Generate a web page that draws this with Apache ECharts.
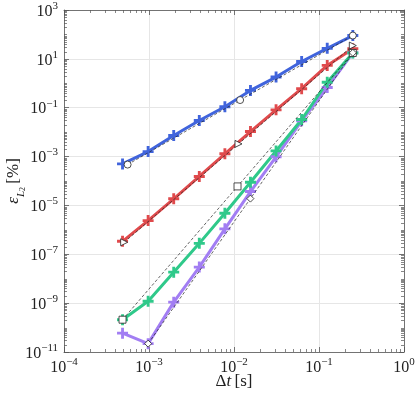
<!DOCTYPE html>
<html>
<head>
<meta charset="utf-8">
<script src="https://cdn.jsdelivr.net/npm/echarts@6/dist/echarts.min.js"></script>
<style>html,body{margin:0;padding:0;background:#fff}#main{width:415px;height:396px}</style>
</head>
<body>
<div id="main"></div>
<script>
// time steps
var dt = [0.25, 0.125, 0.0625, 0.03125, 0.015625, 0.0078125, 0.00390625, 0.001953125, 0.0009765625, 0.00048828125];
// errors in %
var blueErr   = [90, 27, 7.8, 1.8, 0.51, 0.11, 0.030, 7.3e-3, 1.6e-3, 5.0e-4];
var redErr    = [26, 5.4, 0.60, 0.082, 0.0106, 1.3e-3, 1.53e-4, 1.87e-5, 2.4e-6, 3.4e-7];
var greenErr  = [17.4, 1.1, 0.033, 1.7e-3, 8.9e-5, 4.8e-6, 2.8e-7, 1.85e-8, 1.2e-9, 2.1e-10];
var purpleErr = [17.7, 0.67, 0.029, 9.8e-4, 3.7e-5, 1.1e-6, 3.0e-8, 1.1e-9, 2.2e-11, 5.9e-11];
// reference slopes (order 2,3,4,5)
var blueRefDt = [5.6e-4, 0.0118, 0.25],   blueRef = [4.7e-4, 0.206, 90];
var redRefDt = [5.1e-4, 0.0113, 0.25],    redRef = [3.1e-7, 3.3e-3, 35];
var greenRefDt = [4.88e-4, 0.011, 0.25],  greenRef = [2.1e-10, 6.0e-5, 17.4];
var purpleRefDt = [9.77e-4, 0.0156, 0.25], purpleRef = [2.2e-11, 1.9e-5, 17.7];

var serif = 'Liberation Serif';
var plusPath = 'path://M3.7,0h2.6v3.7h3.7v2.6h-3.7v3.7h-2.6v-3.7h-3.7v-2.6h3.7z';

function pairs(xs, ys){
    return xs.map(function(x, i){ return [x, ys[i]]; });
}
function powLabel(v){
    var e = Math.round(Math.log10(v));
    return '{b|10}{e|' + (e < 0 ? '\u2212' + (-e) : e) + '}';
}
var labRich = {
    b: {fontFamily: serif, fontSize: 16, color: '#222', lineHeight: 19, verticalAlign: 'bottom'},
    e: {fontFamily: serif, fontSize: 11, color: '#222', lineHeight: 19, verticalAlign: 'top'}
};

// minor ticks (log decades)
var xMinor = [], yMinor = [];
for (var k = -4; k < 0; k++) for (var m = 2; m <= 9; m++) xMinor.push(m * Math.pow(10, k));
for (var k = -11; k < 3; k++) {
    if (k % 2 === 0) yMinor.push(Math.pow(10, k));
    for (var m = 2; m <= 9; m++) yMinor.push(m * Math.pow(10, k));
}

function mainLine(name, data, color){
    return {
        name: name, type: 'line', data: data,
        showAllSymbol: true, symbol: plusPath, symbolSize: 11,
        lineStyle: {color: color, width: 3},
        itemStyle: {color: color},
        z: 3
    };
}
function refLine(name, data, symbol, rot){
    return {
        name: name, type: 'line', data: data,
        symbol: symbol, symbolSize: 7, symbolRotate: rot || 0,
        lineStyle: {color: '#222', width: 0.7, type: [3, 2]},
        itemStyle: {color: '#fff', borderColor: '#222', borderWidth: 0.8},
        z: 4
    };
}

var chart = echarts.init(document.getElementById('main'));
var axisLineStyle = {lineStyle: {color: '#555', width: 0.8}};
var option = {
    animation: false,
    backgroundColor: '#fff',
    grid: {left: 64, right: 11, top: 10, bottom: 44, outerBoundsMode: 'none', containLabel: false},
    xAxis: [{
        type: 'log', logBase: 10, min: 1e-4, max: 1,
        axisLine: axisLineStyle,
        axisTick: {inside: true, length: 5, lineStyle: {color: '#555', width: 0.8}},
        splitLine: {show: true, lineStyle: {color: '#e6e6e6', width: 1}},
        axisLabel: {formatter: powLabel, rich: labRich, margin: 5},
        name: '{n|\u0394}{i|t} {n|[s]}',
        nameLocation: 'middle', nameGap: 21, nameMoveOverlap: false,
        nameTextStyle: {verticalAlign: 'top', rich: {
            n: {fontFamily: serif, fontSize: 17, color: '#222'},
            i: {fontFamily: serif, fontSize: 17, fontStyle: 'italic', color: '#222'}
        }}
    }, {
        type: 'log', logBase: 10, min: 1e-4, max: 1, position: 'top',
        axisLine: axisLineStyle,
        axisTick: {inside: true, length: 5, lineStyle: {color: '#555', width: 0.8}},
        splitLine: {show: false}, axisLabel: {show: false}
    }],
    yAxis: [{
        type: 'log', logBase: 10, min: 1e-11, max: 1e3, interval: 2,
        axisLine: axisLineStyle,
        axisTick: {inside: true, length: 5, lineStyle: {color: '#555', width: 0.8}},
        splitLine: {show: true, lineStyle: {color: '#e6e6e6', width: 1}},
        axisLabel: {formatter: powLabel, rich: labRich, margin: 6},
        name: '{i|\u03b5}{s|L}{ss|2} {n|[%]}',
        nameLocation: 'middle', nameGap: 37, nameRotate: 90, nameMoveOverlap: false,
        nameTextStyle: {verticalAlign: 'bottom', rich: {
            n: {fontFamily: serif, fontSize: 17, color: '#222'},
            i: {fontFamily: serif, fontSize: 17, fontStyle: 'italic', color: '#222'},
            s: {fontFamily: serif, fontSize: 11, fontStyle: 'italic', color: '#222', verticalAlign: 'bottom', lineHeight: 22},
            ss: {fontFamily: serif, fontSize: 8, color: '#222', verticalAlign: 'bottom', lineHeight: 26}
        }}
    }, {
        type: 'log', logBase: 10, min: 1e-11, max: 1e3, interval: 2, position: 'right',
        axisLine: axisLineStyle,
        axisTick: {inside: true, length: 5, lineStyle: {color: '#555', width: 0.8}},
        splitLine: {show: false}, axisLabel: {show: false}
    }],
    series: [
        mainLine('p5', pairs(dt, purpleErr), '#a27ef3'),
        mainLine('p4', pairs(dt, greenErr), '#2fc98a'),
        mainLine('p3', pairs(dt, redErr), '#e04a4c'),
        mainLine('p2', pairs(dt, blueErr), '#4064dc'),
        refLine('r2', pairs(blueRefDt, blueRef), 'circle'),
        refLine('r3', pairs(redRefDt, redRef), 'triangle', -90),
        refLine('r4', pairs(greenRefDt, greenRef), 'rect'),
        refLine('r5', pairs(purpleRefDt, purpleRef), 'diamond'),
        {
            type: 'custom', silent: true, clip: false, z: 2,
            data: [[0.01, 1]],
            renderItem: function(params, api){
                var cs = params.coordSys;
                var kids = [];
                var st = {stroke: '#555', lineWidth: 0.7};
                xMinor.forEach(function(v){
                    var px = Math.round(api.coord([v, 1])[0]) + 0.5;
                    kids.push({type: 'line', shape: {x1: px, y1: cs.y + cs.height, x2: px, y2: cs.y + cs.height - 3}, style: st});
                    kids.push({type: 'line', shape: {x1: px, y1: cs.y, x2: px, y2: cs.y + 3}, style: st});
                });
                yMinor.forEach(function(v){
                    var py = Math.round(api.coord([0.01, v])[1]) + 0.5;
                    kids.push({type: 'line', shape: {x1: cs.x, y1: py, x2: cs.x + 3, y2: py}, style: st});
                    kids.push({type: 'line', shape: {x1: cs.x + cs.width, y1: py, x2: cs.x + cs.width - 3, y2: py}, style: st});
                });
                return {type: 'group', children: kids};
            }
        }
    ]
};
chart.setOption(option);
</script>
</body>
</html>
